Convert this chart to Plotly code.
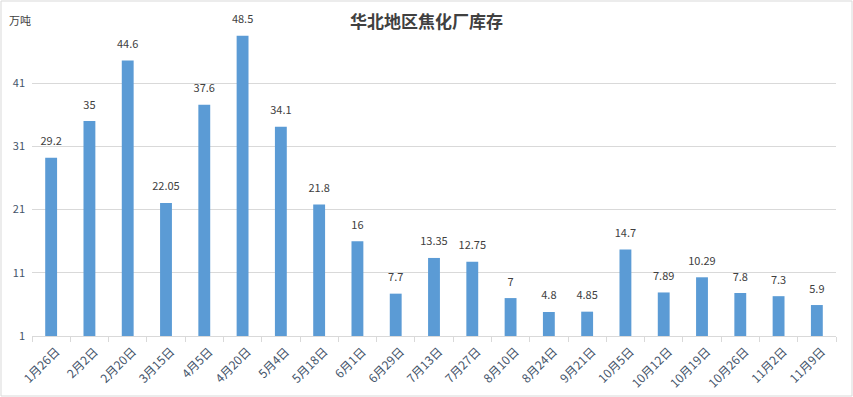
import plotly.graph_objects as go

categories = ["1月26日", "2月2日", "2月20日", "3月15日", "4月5日", "4月20日", "5月4日",
              "5月18日", "6月1日", "6月29日", "7月13日", "7月27日", "8月10日", "8月24日",
              "9月21日", "10月5日", "10月12日", "10月19日", "10月26日", "11月2日", "11月9日"]
values = [29.2, 35, 44.6, 22.05, 37.6, 48.5, 34.1, 21.8, 16, 7.7, 13.35, 12.75, 7,
          4.8, 4.85, 14.7, 7.89, 10.29, 7.8, 7.3, 5.9]
value_labels = ["29.2", "35", "44.6", "22.05", "37.6", "48.5", "34.1", "21.8", "16", "7.7",
                "13.35", "12.75", "7", "4.8", "4.85", "14.7", "7.89", "10.29", "7.8", "7.3", "5.9"]
y_ticks = [1, 11, 21, 31, 41, 51]
y_tick_text = ["1", "11", "21", "31", "41", ""]

fig = go.Figure()
fig.add_trace(go.Bar(
    x=categories,
    y=[v - 1 for v in values],
    base=1,
    marker=dict(color="#5B9BD5", line=dict(width=0)),
    hoverinfo="skip",
))
fig.add_trace(go.Scatter(
    x=categories,
    y=values,
    mode="markers+text",
    marker=dict(size=14, color="rgba(0,0,0,0)"),
    text=value_labels,
    textposition="top center",
    textfont=dict(size=11, color="#404040", family="Noto Sans CJK SC"),
    cliponaxis=False,
    hoverinfo="skip",
))

fig.update_layout(
    width=853, height=397,
    margin=dict(l=32, r=17, t=20, b=61),
    paper_bgcolor="white",
    plot_bgcolor="white",
    bargap=0.69,
    showlegend=False,
    font=dict(family="Noto Sans CJK SC", color="#595959"),
    title=dict(text="<b>华北地区焦化厂库存</b>", x=0.5, xanchor="center", y=0.945, yanchor="middle",
               font=dict(size=17, color="#404040", family="Noto Sans CJK SC")),
    xaxis=dict(
        type="category",
        range=[-0.5, len(categories) - 0.5],
        automargin=False,
        tickangle=-45,
        tickfont=dict(size=12, color="#44546A"),
        showline=True, linecolor="#D9D9D9", linewidth=1,
        ticks="outside", tickson="boundaries", ticklen=5, tickcolor="#D9D9D9",
        ticklabelshift=5, ticklabelstandoff=3,
        showgrid=False,
    ),
    yaxis=dict(
        range=[1, 51],
        automargin=False,
        tickvals=y_ticks,
        ticktext=y_tick_text,
        tickfont=dict(size=11, color="#44546A"),
        showgrid=True, gridcolor="#D9D9D9", gridwidth=1,
        zeroline=False, showline=False,
        ticks="", ticklabelstandoff=6,
    ),
    annotations=[dict(text="万吨", xref="paper", yref="paper", x=-25/804, y=1.0,
                      xanchor="left", yanchor="middle", showarrow=False,
                      font=dict(size=11, color="#404040"))],
    shapes=[dict(type="rect", xref="paper", yref="paper", x0=-31/804, x1=1+16/804,
                 y0=-60/316, y1=1+19/316, line=dict(color="#D9D9D9", width=1))],
)

fig.write_html("out.html", config={"displayModeBar": False},
               post_script="document.body.style.margin='0';")
